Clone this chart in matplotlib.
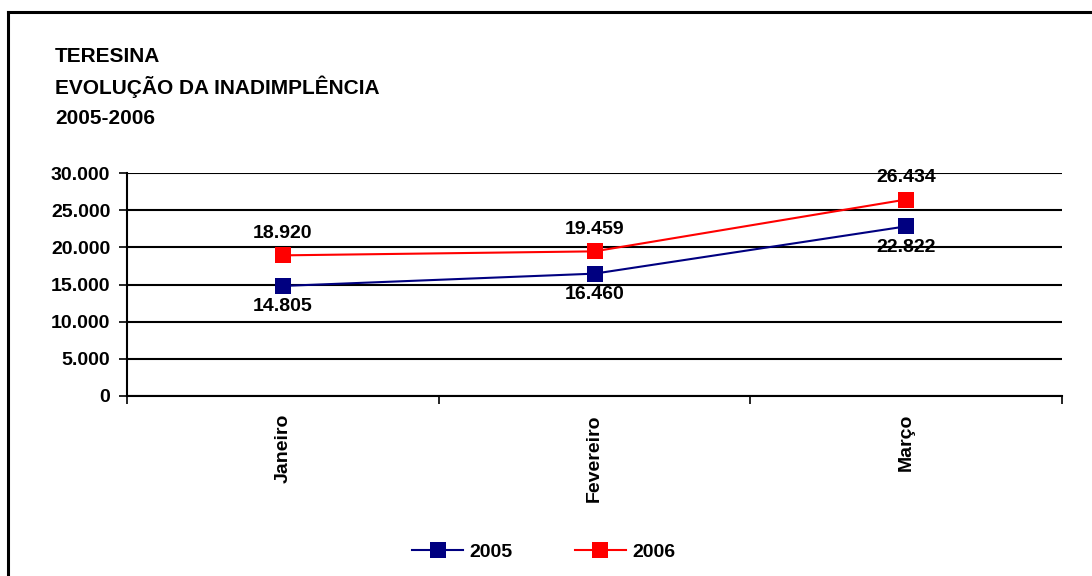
import matplotlib
matplotlib.use("Agg")
import matplotlib.pyplot as plt
from matplotlib.lines import Line2D
from matplotlib.ticker import FuncFormatter, FixedLocator

plt.rcParams['font.family'] = ['Liberation Sans', 'DejaVu Sans']
plt.rcParams['font.weight'] = 'bold'

months = ["Janeiro", "Fevereiro", "Março"]
values_2005 = [14805, 16460, 22822]
values_2006 = [18920, 19459, 26434]
yticks = [0, 5000, 10000, 15000, 20000, 25000, 30000]
title_lines = ["TERESINA", "EVOLUÇÃO DA INADIMPLÊNCIA", "2005-2006"]

W, H = 1092, 576
fig = plt.figure(figsize=(W / 100, H / 100), dpi=100)
ax = fig.add_axes([127 / W, 1 - 396 / H, (1062 - 127) / W, (396 - 173) / H])

x = list(range(len(months)))
navy = "#000080"
red = "#FF0000"
ax.plot(x, values_2005, color=navy, lw=1.5, marker="s", markersize=11,
        markeredgewidth=0, zorder=4, clip_on=False)
ax.plot(x, values_2006, color=red, lw=1.5, marker="s", markersize=11,
        markeredgewidth=0, zorder=4, clip_on=False)


def fmt(v):
    return f"{v:,.0f}".replace(",", ".")


for xi, v in zip(x, values_2006):
    ax.annotate(fmt(v), (xi, v), xytext=(0, 22), textcoords="offset pixels",
                ha="center", va="center", fontsize=14, fontweight="bold", zorder=5)
for xi, v in zip(x, values_2005):
    ax.annotate(fmt(v), (xi, v), xytext=(0, -21), textcoords="offset pixels",
                ha="center", va="center", fontsize=14, fontweight="bold", zorder=5)

ax.set_xlim(-0.5, len(months) - 0.5)
ax.set_ylim(0, 30000)
ax.set_yticks(yticks)
ax.yaxis.set_major_formatter(FuncFormatter(lambda v, p: fmt(v)))
ax.grid(axis="y", color="black", lw=1.5)
ax.set_axisbelow(True)

ax.set_xticks(x)
ax.set_xticklabels(months, rotation=90, va="top", ha="center", fontsize=14,
                   fontweight="bold")
ax.tick_params(axis="x", which="major", length=0, pad=13)
ax.xaxis.set_minor_locator(FixedLocator([-0.5, 0.5, 1.5, 2.5]))
ax.tick_params(axis="x", which="minor", length=6, width=1.2, color="black")
ax.tick_params(axis="y", length=6, width=1.2, labelsize=14, pad=6)
for lbl in ax.get_yticklabels():
    lbl.set_fontweight("bold")

for s in ["top", "right"]:
    ax.spines[s].set_visible(False)
ax.spines["left"].set_linewidth(1.5)
ax.spines["bottom"].set_linewidth(1.5)

for i, line in enumerate(title_lines):
    fig.text(55 / W, 1 - (56 + 31 * i) / H, line, fontsize=15, fontweight="bold",
             ha="left", va="center")

handles = [Line2D([], [], color=navy, lw=1.5, marker="s", markersize=11, markeredgewidth=0),
           Line2D([], [], color=red, lw=1.5, marker="s", markersize=11, markeredgewidth=0)]
fig.legend(handles, ["2005", "2006"], loc="center", bbox_to_anchor=(544 / W, 1 - 552 / H),
           ncol=2, frameon=False, handlelength=2.6, handletextpad=0.35,
           columnspacing=3.2, prop={"weight": "bold", "size": 14})

# outer chart frame (left and top edges)
fig.add_artist(Line2D([8 / W, 8 / W], [0, 1 - 12 / H], color="black", lw=2.2,
                      transform=fig.transFigure))
fig.add_artist(Line2D([8 / W, 1], [1 - 12 / H, 1 - 12 / H], color="black", lw=2.2,
                      transform=fig.transFigure))

fig.savefig("out.png", dpi=100)
